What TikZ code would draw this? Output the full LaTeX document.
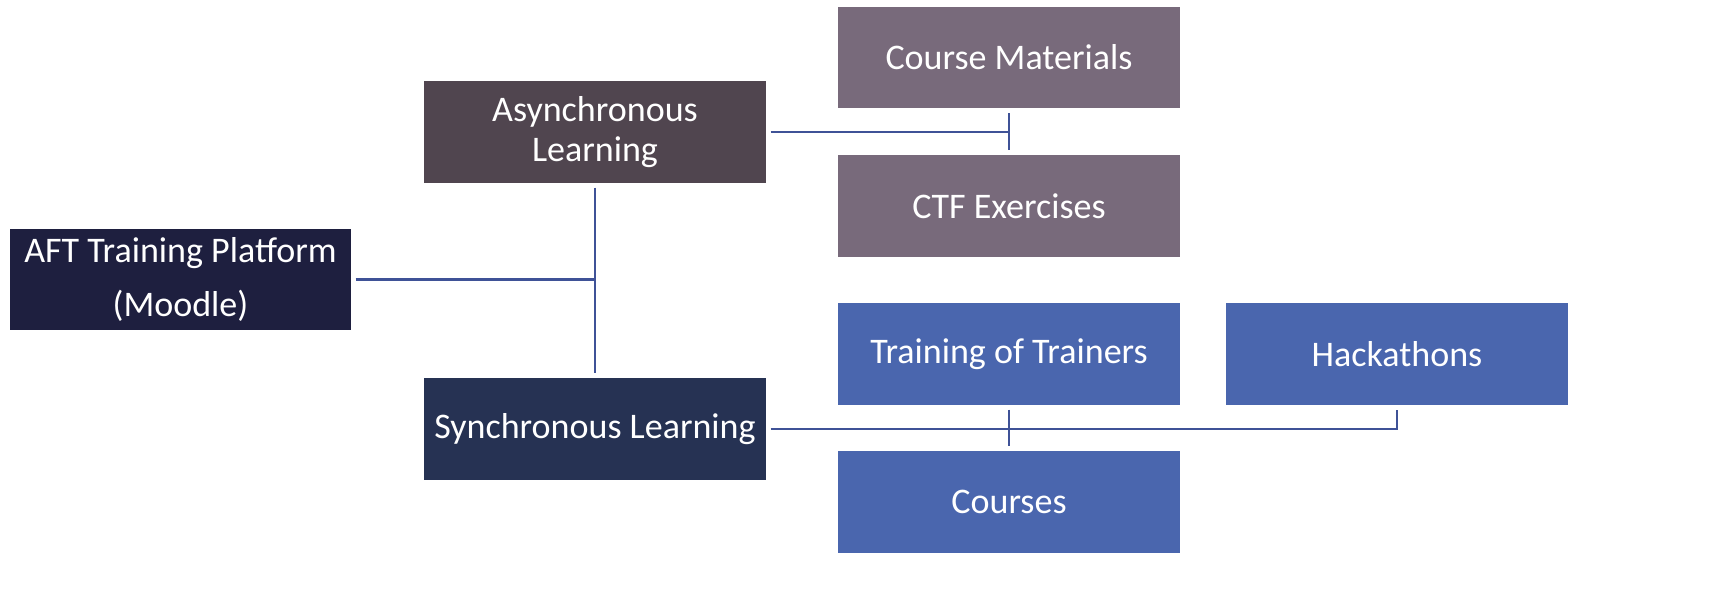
\documentclass[tikz,border=0pt]{standalone}
\usepackage{fontspec}
\setmainfont{Carlito}
\usetikzlibrary{positioning}

\definecolor{platformc}{HTML}{1E1F3F}
\definecolor{asyncc}{HTML}{50454F}
\definecolor{syncc}{HTML}{263253}
\definecolor{mauvec}{HTML}{786A7B}
\definecolor{bluec}{HTML}{4A66AE}
\definecolor{linkc}{HTML}{3F5297}

\begin{document}
\begin{tikzpicture}[x=0.02cm,y=-0.02cm,semithick]
  \tikzstyle{box}=[minimum width=6.84cm,minimum height=2.04cm,inner sep=0pt,
                   text=white,align=center,font=\fontsize{20.5}{23}\selectfont]
  \tikzstyle{link}=[draw=linkc,line width=1.3pt,shorten >=2.3pt,shorten <=2.3pt]

  \useasboundingbox (0,0) rectangle (1723,607);

  \node[box,fill=platformc,minimum width=6.82cm] (aft) at (180.5,279.5) {AFT Training Platform\\[8pt](Moodle)};
  \node[box,fill=asyncc]  (async) at (595,132)  {Asynchronous\\Learning};
  \node[box,fill=syncc]   (sync)  at (595,429)  {Synchronous Learning};
  \node[box,fill=mauvec]  (cm)    at (1009,57.5) {Course Materials};
  \node[box,fill=mauvec]  (ctf)   at (1009,206) {CTF Exercises};
  \node[box,fill=bluec]   (tot)   at (1009,354) {Training of Trainers};
  \node[box,fill=bluec]   (hack)  at (1397,354) {Hackathons};
  \node[box,fill=bluec]   (crs)   at (1009,502) {Courses};

  \coordinate (trunk) at (async.south |- aft.east);
  \coordinate (ajoin) at (cm.south |- async.east);

  \draw[link,shorten >=0pt] (aft.east) -- (trunk);
  \draw[link] (async.south) -- (sync.north);
  \draw[link,shorten >=0pt] (async.east) -- (ajoin);
  \draw[link] (cm.south) -- (ctf.north);
  \draw[link] (sync.east) -| (hack.south);
  \draw[link] (tot.south) -- (crs.north);
\end{tikzpicture}
\end{document}
